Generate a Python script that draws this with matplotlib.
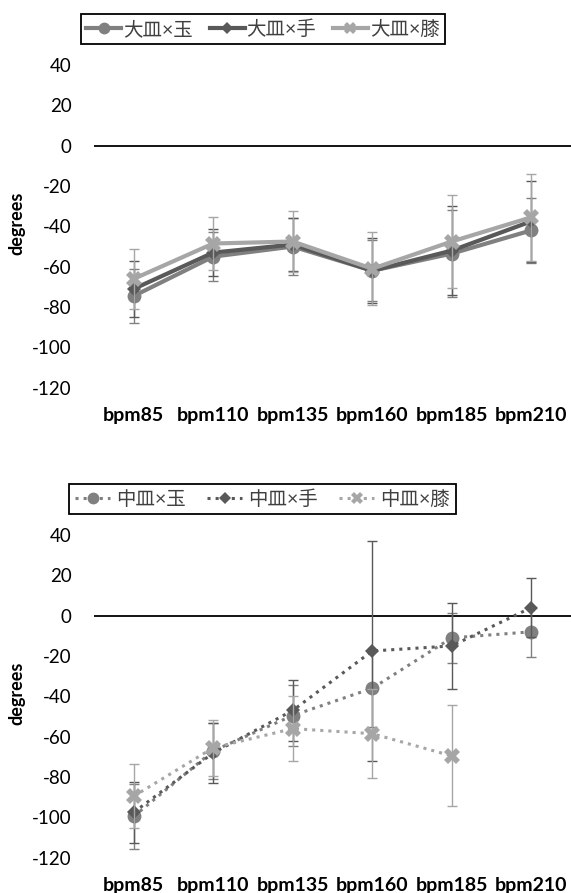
import numpy as np
import matplotlib
matplotlib.use('Agg')
import matplotlib.pyplot as plt

plt.rcParams['font.family'] = ['Lato', 'Noto Sans CJK JP', 'DejaVu Sans']
plt.rcParams['axes.unicode_minus'] = False

# data
categories = ['bpm85', 'bpm110', 'bpm135', 'bpm160', 'bpm185', 'bpm210']

large_ball = [-74.5, -55, -50, -62, -53.5, -42]
large_ball_err = [13.5, 12, 14, 15, 21.5, 16]
large_hand = [-71, -53, -49, -62, -52, -37.5]
large_hand_err = [14, 11.5, 13, 16, 22, 20]
large_knee = [-66, -48.5, -47.5, -61, -47.5, -35.5]
large_knee_err = [15, 13, 15, 18, 23, 21.5]

mid_ball = [-99.5, -67, -49.5, -36, -11, -8]
mid_ball_err = [16, 14, 15, 19, 12.5, 12.5]
mid_hand = [-97.5, -68, -47, -17.5, -15, 4]
mid_hand_err = [15, 15, 15, 54.5, 21.5, 14.5]
mid_knee = [-89.5, -65.5, -56, -58.5, -69.5, np.nan]
mid_knee_err = [16, 14, 16, 22, 25, np.nan]

top_labels = ['大皿×玉', '大皿×手', '大皿×膝']
bottom_labels = ['中皿×玉', '中皿×手', '中皿×膝']

colors = ['#808080', '#595959', '#a6a6a6']
markers = ['o', 'D', 'X']
msizes = [10, 7.5, 11]

x = np.arange(len(categories))

fig = plt.figure(figsize=(5.71, 8.93), dpi=100)
ax_top = fig.add_axes([0.1646, 0.5658, 0.8354, 0.3614])
ax_bot = fig.add_axes([0.1646, 0.0395, 0.8354, 0.3614])


def draw(ax, series, errs, labels, ls, lw):
    for i in range(3):
        ax.errorbar(x, series[i], yerr=errs[i], fmt='none', ecolor=colors[i],
                    elinewidth=1, capsize=3.5, capthick=1, zorder=2 + i)
        ax.plot(x, series[i], color=colors[i], ls=ls, lw=lw, marker=markers[i],
                markersize=msizes[i], markeredgewidth=0, label=labels[i],
                clip_on=False, zorder=3 + i)
    ax.axhline(0, color='black', lw=1.3, zorder=1)
    ax.set_xlim(-0.5, 5.5)
    ax.set_ylim(-120, 40)
    ax.set_yticks(range(-120, 41, 20))
    ax.set_xticks(x)
    ax.set_xticklabels(categories, fontsize=14, fontweight='bold')
    ax.tick_params(axis='y', length=0, pad=16, labelsize=13.5)
    ax.tick_params(axis='x', length=0, pad=14)
    for s in ax.spines.values():
        s.set_visible(False)
    ax.set_ylabel('degrees', fontsize=13, fontweight='bold')
    ax.yaxis.set_label_coords(-0.143, 0.51)


draw(ax_top, [large_ball, large_hand, large_knee],
     [large_ball_err, large_hand_err, large_knee_err], top_labels, '-', 3)
draw(ax_bot, [mid_ball, mid_hand, mid_knee],
     [mid_ball_err, mid_hand_err, mid_knee_err], bottom_labels, ':', 2.2)

for ax, cx, cy, tp, cs in [(ax_top, 0.4606, 0.9675, 0.1, 0.85),
                           (ax_bot, 0.4597, 0.4412, 0.3, 1.1)]:
    h, l = ax.get_legend_handles_labels()
    leg = fig.legend(h, l, loc='center', bbox_to_anchor=(cx, cy), ncol=3,
                     frameon=True, fancybox=False, framealpha=1,
                     edgecolor='black', fontsize=14, handlelength=1.8,
                     handletextpad=tp, columnspacing=cs, borderpad=0.3,
                     labelcolor='#404040')
    leg.get_frame().set_linewidth(1.3)
    for lh in leg.legend_handles:
        lh.set_markersize(lh.get_markersize() * 0.85)

fig.savefig('out.png', dpi=100)
